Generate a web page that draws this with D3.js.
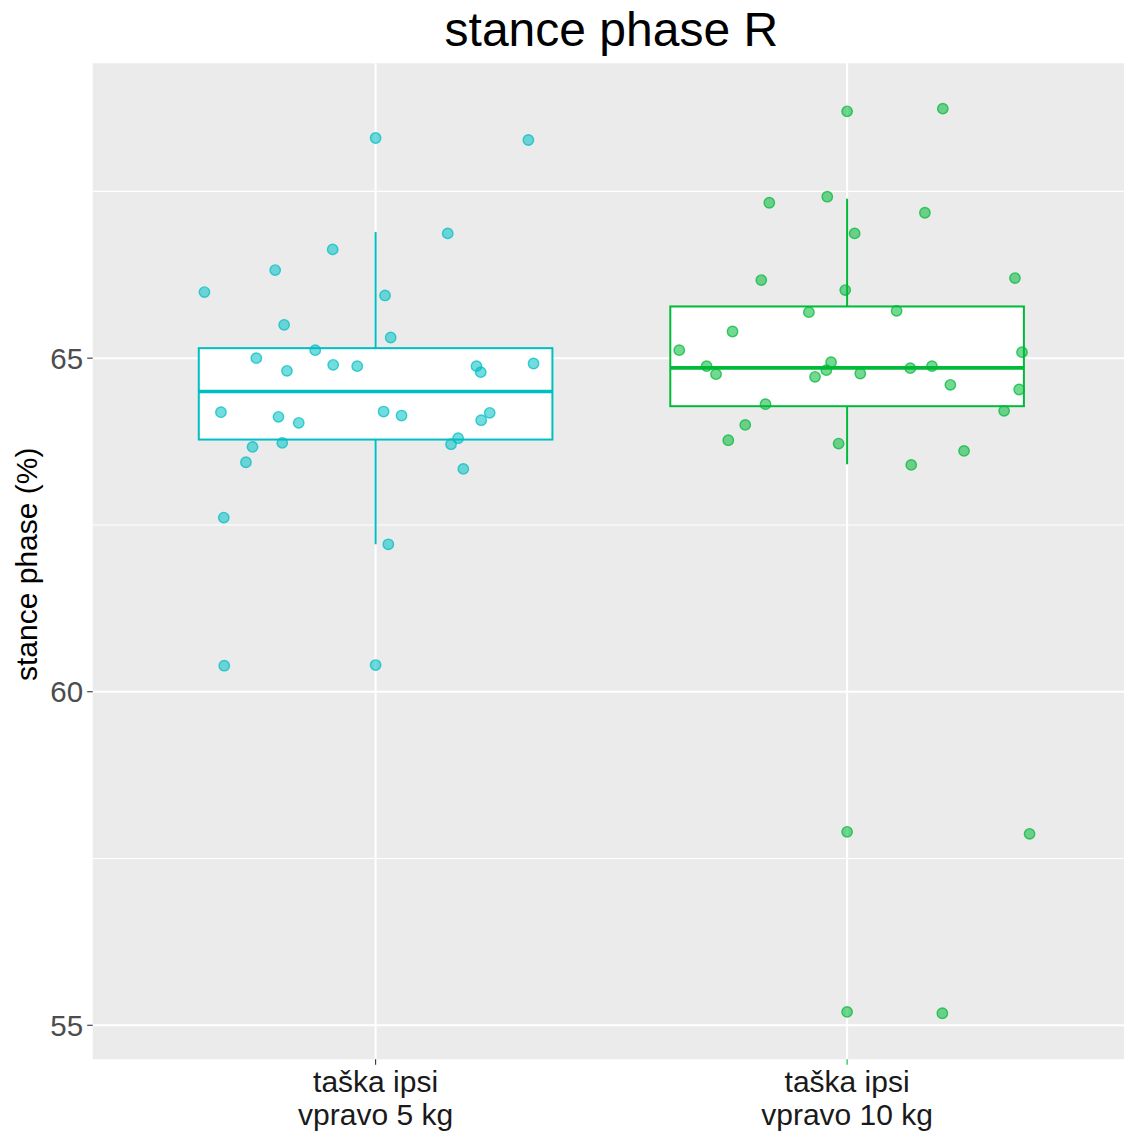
<!DOCTYPE html>
<html>
<head>
<meta charset="utf-8">
<script src="https://cdn.jsdelivr.net/npm/d3@7"></script>
<style>
  html, body { margin: 0; padding: 0; background: #ffffff; }
  svg { display: block; font-family: "Liberation Sans", Arial, Helvetica, sans-serif; }
</style>
</head>
<body>
<svg id="chart" width="1124" height="1133"></svg>
<script>
// Groups on the x axis (two-line labels)
const categories = [
  ["taška ipsi", "vpravo 5 kg"],
  ["taška ipsi", "vpravo 10 kg"]
];
const groupColors = ["#00BFC4", "#00BA38"];

// Stance phase (%) per subject, with horizontal jitter offsets (category units)
const stance5kg = [
  68.30, 68.27, 66.87, 66.63, 66.32, 65.99, 65.94, 65.50, 65.31, 65.12,
  65.00, 64.81, 64.90, 64.88, 64.88, 64.79, 64.92, 64.19, 64.12, 64.03,
  64.20, 64.14, 64.18, 64.07, 63.80, 63.71, 63.67, 63.73, 63.44, 63.34,
  62.61, 62.21, 60.39, 60.40
];
const jitter5kg = [
  0.000, 0.324, 0.153, -0.091, -0.213, -0.363, 0.020, -0.194, 0.032, -0.128,
  -0.253, -0.188, -0.090, -0.039, 0.214, 0.223, 0.335, -0.328, -0.206, -0.163,
  0.017, 0.055, 0.242, 0.224, 0.175, 0.160, -0.261, -0.198, -0.275, 0.186,
  -0.322, 0.027, -0.321, 0.000
];
const stance10kg = [
  68.70, 68.74, 67.33, 67.42, 67.18, 66.87, 66.17, 66.20, 66.02, 65.69,
  65.71, 65.40, 65.12, 65.09, 64.88, 64.76, 64.94, 64.82, 64.72, 64.77,
  64.85, 64.88, 64.60, 64.53, 64.31, 64.21, 64.00, 63.77, 63.72, 63.61,
  63.40, 57.90, 57.87, 55.20, 55.18
];
const jitter10kg = [
  0.000, 0.203, -0.165, -0.042, 0.165, 0.016, -0.182, 0.356, -0.004, -0.081,
  0.105, -0.243, -0.356, 0.371, -0.298, -0.278, -0.034, -0.044, -0.068, 0.028,
  0.134, 0.180, 0.219, 0.365, -0.173, 0.333, -0.216, -0.252, -0.018, 0.248,
  0.136, 0.000, 0.387, 0.000, 0.202
];

// Box summaries per group: lower whisker, Q1, median, Q3, upper whisker
const whiskerLow  = [62.21, 63.41];
const quartile1   = [63.78, 64.28];
const medians     = [64.50, 64.855];
const quartile3   = [65.15, 65.775];
const whiskerHigh = [66.89, 67.39];

const yMajorTicks = [55, 60, 65];
const yMinorTicks = [57.5, 62.5, 67.5];
const yDomain = [54.49, 69.42];

const titleText = "stance phase R";
const yTitle = "stance phase (%)";

// ---- layout ----
const svg = d3.select("#chart");
const panel = { left: 92.7, right: 1130, top: 63.3, bottom: 1059.3 };

const x = d3.scaleLinear().domain([0.4, 2.6]).range([panel.left, panel.right]);
const y = d3.scaleLinear().domain(yDomain).range([panel.bottom, panel.top]);

// panel background
svg.append("rect")
  .attr("x", panel.left).attr("y", panel.top)
  .attr("width", panel.right - panel.left).attr("height", panel.bottom - panel.top)
  .attr("fill", "#EBEBEB");

const grid = svg.append("g");
grid.selectAll(".minor").data(yMinorTicks).join("line")
  .attr("x1", panel.left).attr("x2", panel.right)
  .attr("y1", d => y(d)).attr("y2", d => y(d))
  .attr("stroke", "#ffffff").attr("stroke-width", 1.1);
grid.selectAll(".major").data(yMajorTicks).join("line")
  .attr("x1", panel.left).attr("x2", panel.right)
  .attr("y1", d => y(d)).attr("y2", d => y(d))
  .attr("stroke", "#ffffff").attr("stroke-width", 2);
grid.selectAll(".vmajor").data([1, 2]).join("line")
  .attr("x1", d => x(d)).attr("x2", d => x(d))
  .attr("y1", panel.top).attr("y2", panel.bottom)
  .attr("stroke", "#ffffff").attr("stroke-width", 2);

// boxplots
const boxHalf = 0.375;
const boxes = svg.append("g");
[0, 1].forEach(i => {
  const cx = i + 1;
  const g = boxes.append("g").attr("stroke", groupColors[i]).attr("fill", "none");
  g.append("line")
    .attr("x1", x(cx)).attr("x2", x(cx))
    .attr("y1", y(quartile3[i])).attr("y2", y(whiskerHigh[i]))
    .attr("stroke-width", 2);
  g.append("line")
    .attr("x1", x(cx)).attr("x2", x(cx))
    .attr("y1", y(quartile1[i])).attr("y2", y(whiskerLow[i]))
    .attr("stroke-width", 2);
  g.append("rect")
    .attr("x", x(cx - boxHalf)).attr("y", y(quartile3[i]))
    .attr("width", x(cx + boxHalf) - x(cx - boxHalf))
    .attr("height", y(quartile1[i]) - y(quartile3[i]))
    .attr("fill", "#ffffff").attr("stroke-width", 2);
  g.append("line")
    .attr("x1", x(cx - boxHalf)).attr("x2", x(cx + boxHalf))
    .attr("y1", y(medians[i])).attr("y2", y(medians[i]))
    .attr("stroke-width", 3.6);
});

// jittered points
const groups = [
  { values: stance5kg, jitter: jitter5kg, pos: 1, color: groupColors[0] },
  { values: stance10kg, jitter: jitter10kg, pos: 2, color: groupColors[1] }
];
const pts = svg.append("g");
groups.forEach(gr => {
  pts.append("g").selectAll("circle")
    .data(gr.values.map((v, k) => ({ v, j: gr.jitter[k] })))
    .join("circle")
    .attr("cx", d => x(gr.pos + d.j))
    .attr("cy", d => y(d.v))
    .attr("r", 5.2)
    .attr("fill", gr.color).attr("fill-opacity", 0.55)
    .attr("stroke", gr.color).attr("stroke-opacity", 0.75)
    .attr("stroke-width", 1.4);
});

// y axis
const yAxis = svg.append("g");
yAxis.selectAll("line").data(yMajorTicks).join("line")
  .attr("x1", panel.left - 5.5).attr("x2", panel.left)
  .attr("y1", d => y(d)).attr("y2", d => y(d))
  .attr("stroke", "#333333").attr("stroke-width", 1.1);
yAxis.selectAll("text").data(yMajorTicks).join("text")
  .attr("x", panel.left - 9.5)
  .attr("y", d => y(d))
  .attr("dy", "0.36em")
  .attr("text-anchor", "end")
  .attr("font-size", 29.5)
  .attr("fill", "#4D4D4D")
  .text(d => d);

// x axis
const xAxis = svg.append("g");
xAxis.selectAll("line").data([1, 2]).join("line")
  .attr("x1", d => x(d)).attr("x2", d => x(d))
  .attr("y1", panel.bottom).attr("y2", panel.bottom + 5.5)
  .attr("stroke", (d, i) => i === 0 ? "#333333" : groupColors[1])
  .attr("stroke-width", 1.1);
const xl = xAxis.selectAll("text").data(categories).join("text")
  .attr("text-anchor", "middle")
  .attr("font-size", 30)
  .attr("fill", "#1a1a1a");
xl.selectAll("tspan").data((d, i) => d.map(s => ({ s, i }))).join("tspan")
  .attr("x", d => x(d.i + 1))
  .attr("y", (d, k) => 1092 + k * 33)
  .text(d => d.s);

// titles
svg.append("text")
  .attr("transform", `translate(37,${(panel.top + panel.bottom) / 2 + 3}) rotate(-90)`)
  .attr("text-anchor", "middle")
  .attr("font-size", 30)
  .attr("fill", "#000000")
  .text(yTitle);

svg.append("text")
  .attr("x", (panel.left + panel.right) / 2)
  .attr("y", 46)
  .attr("text-anchor", "middle")
  .attr("font-size", 48)
  .attr("fill", "#000000")
  .text(titleText);
</script>
</body>
</html>
